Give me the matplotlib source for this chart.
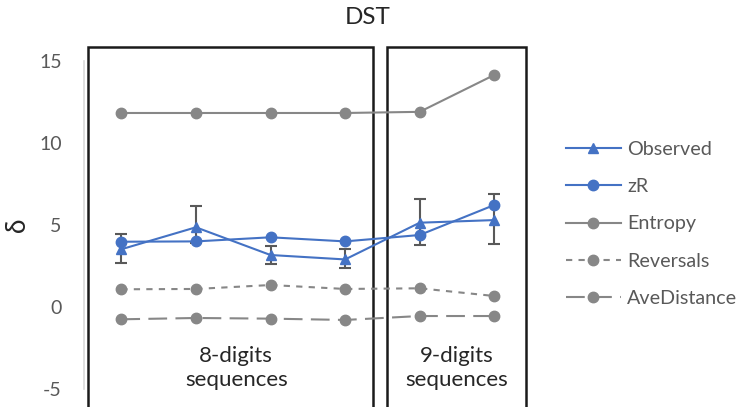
import matplotlib
matplotlib.use("Agg")
import matplotlib.pyplot as plt
from matplotlib.patches import Rectangle

plt.rcParams['font.family'] = ['Lato', 'DejaVu Sans']

# Six sequence conditions (four 8-digit, two 9-digit)
conditions = [1, 2, 3, 4, 5, 6]
observed = [3.52, 4.86, 3.17, 2.90, 5.14, 5.30]
observed_err_low = [0.86, 0.95, 0.57, 0.50, 1.36, 1.46]
observed_err_high = [0.91, 1.32, 0.58, 0.66, 1.42, 1.59]
zR = [3.98, 4.00, 4.25, 4.00, 4.39, 6.22]
entropy = [11.83, 11.83, 11.83, 11.83, 11.90, 14.15]
reversals = [1.08, 1.10, 1.34, 1.10, 1.14, 0.67]
ave_distance = [-0.75, -0.67, -0.71, -0.79, -0.55, -0.55]
y_ticks = [-5, 0, 5, 10, 15]

blue = '#4472C4'
grey = '#878787'
text_grey = '#595959'

fig = plt.figure(figsize=(7.41, 4.07), dpi=100)
ax = fig.add_axes([84 / 741, 18 / 407, 447.6 / 741, 328 / 407])

x = list(range(len(conditions)))
ms = 7.5
ax.plot(x, entropy, color=grey, lw=1.5, marker='o', ms=ms, label='Entropy', zorder=3)
ax.plot(x, reversals, color=grey, lw=1.5, ls=(0, (3, 3)), marker='o', ms=ms,
        label='Reversals', zorder=3)
ax.plot(x, ave_distance, color=grey, lw=1.5, ls=(0, (9, 4)), marker='o', ms=ms,
        label='AveDistance', zorder=3)
ax.errorbar(x, observed, yerr=[observed_err_low, observed_err_high], fmt='none',
            ecolor='#595959', elinewidth=1.5, capsize=4, capthick=1.5, zorder=2)
ax.plot(x, observed, color=blue, lw=1.5, marker='^', ms=ms, label='Observed', zorder=4)
ax.plot(x, zR, color=blue, lw=1.5, marker='o', ms=ms, label='zR', zorder=4)

ax.set_xlim(-0.5, len(conditions) - 0.5)
ax.set_ylim(-5, 15)
ax.set_yticks(y_ticks)
ax.set_yticklabels([str(t) for t in y_ticks])
ax.tick_params(axis='y', length=0, pad=16, labelsize=14, labelcolor=text_grey)
ax.set_xticks([])
for s in ['top', 'right', 'bottom']:
    ax.spines[s].set_visible(False)
ax.spines['left'].set_color('#d9d9d9')
ax.spines['left'].set_linewidth(1.2)

# Group boxes
for x0, x1 in [(-0.446, 3.374), (3.56, 5.425)]:
    ax.add_patch(Rectangle((x0, -6.5), x1 - x0, 15.85 + 6.5, fill=False,
                           edgecolor='#1a1a1a', lw=1.8, clip_on=False, zorder=1))

ax.text(1.54, -3.72, '8-digits\nsequences', ha='center', va='center',
        fontsize=16, color='#262626', linespacing=1.2)
ax.text(4.49, -3.72, '9-digits\nsequences', ha='center', va='center',
        fontsize=16, color='#262626', linespacing=1.2)

fig.text(17 / 741, 1 - 225 / 407, 'δ', rotation=90, ha='center', va='center',
         fontsize=19, color='#262626')
fig.text(368 / 741, 1 - 18 / 407, 'DST', ha='center', va='center',
         fontsize=17.5, color='#262626')

handles, labels = ax.get_legend_handles_labels()
order = ['Observed', 'zR', 'Entropy', 'Reversals', 'AveDistance']
hmap = dict(zip(labels, handles))
leg = fig.legend([hmap[k] for k in order], order, loc='center left',
                 bbox_to_anchor=(556 / 741, 1 - 224 / 407), frameon=False,
                 fontsize=14.2, handlelength=2.8, labelspacing=1.02,
                 handletextpad=0.3, borderpad=0.2, borderaxespad=0.3)
for t in leg.get_texts():
    t.set_color(text_grey)

fig.savefig('out.png', dpi=100)
